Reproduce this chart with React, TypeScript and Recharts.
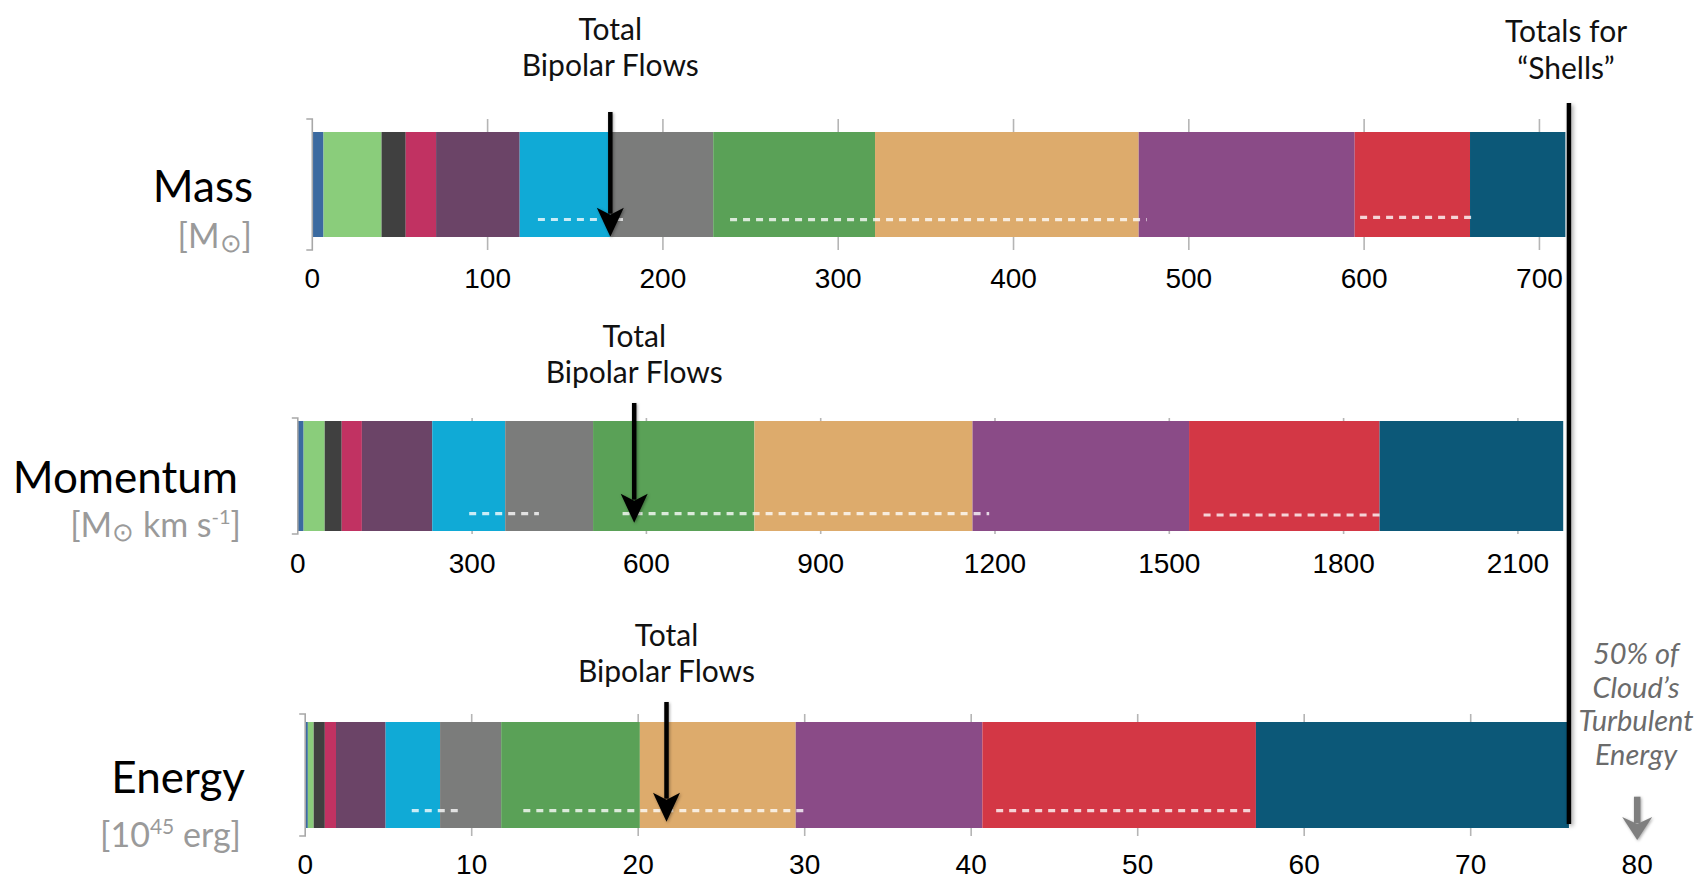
import React from 'react';
import { ComposedChart, Bar, XAxis, YAxis, CartesianGrid, ReferenceLine } from 'recharts';

// ---------- data ----------
const segmentKeys = ['s1', 's2', 's3', 's4', 's5', 's6', 's7', 's8', 's9', 's10', 's11', 's12'];
const segmentColors = [
  '#3b6aa0', '#8acd7b', '#404040', '#c13262', '#6b4467', '#10aad6',
  '#7b7c7b', '#5aa157', '#ddab6c', '#8a4b87', '#d33745', '#0c5878',
];

const massValues = [6.4, 33.1, 13.8, 17.3, 47.7, 51.7, 58.7, 92.3, 150.4, 123.2, 65.8, 54.4];
const momentumValues = [10, 36.3, 29.3, 34.7, 121.1, 125.6, 151.2, 277.7, 375.4, 372.7, 327.9, 316.1];
const energyValues = [0.16, 0.35, 0.67, 0.67, 2.98, 3.27, 3.67, 8.33, 9.36, 11.21, 16.43, 18.8];

const massTicks = [0, 100, 200, 300, 400, 500, 600, 700];
const momentumTicks = [0, 300, 600, 900, 1200, 1500, 1800, 2100];
const energyTicks = [0, 10, 20, 30, 40, 50, 60, 70, 80];

const massGrid = [100, 200, 300, 400, 500, 600, 700];
const momentumGrid = [300, 600, 900, 1200, 1500, 1800, 2100];
const energyGrid = [10, 20, 30, 40, 50, 60, 70];

const massDashes = [[128.7, 177.2], [238.3, 476.0], [597.7, 661.5]];
const momentumDashes = [[295, 415], [559, 1190], [1559, 1872]];
const energyDashes = [[6.4, 9.2], [13.1, 30.2], [41.5, 57.1]];

const massBipolarTotal = 170;
const momentumBipolarTotal = 579;
const energyBipolarTotal = 21.7;
const halfTurbulentEnergy = 80;

const energyShellTotal = energyValues.reduce((a, b) => a + b, 0);

// ---------- shapes ----------
const FONT = 'Lato, "Open Sans", sans-serif';

const bracketShape = (p: any) => {
  const top = Math.min(p.y1, p.y2);
  const bot = Math.max(p.y1, p.y2);
  const x = p.x1;
  return (
    <path d={`M${x - 6},${top} H${x} V${bot} H${x - 6}`} fill="none" stroke="#a8a8a8" strokeWidth={1.6} />
  );
};

const makeDash = (off: number) => (p: any) => {
  const yc = (p.y1 + p.y2) / 2 + off;
  return (
    <line
      x1={p.x1} x2={p.x2} y1={yc} y2={yc}
      stroke="rgba(255,255,255,0.78)" strokeWidth={3.2} strokeDasharray="7 6"
    />
  );
};

const makeArrow = (
  color: string, shaftW: number, headW: number, headH: number,
  topOff: number, tipOff: number, labelOffsets?: number[],
) => (p: any) => {
  const yc = (p.y1 + p.y2) / 2;
  const top = yc + topOff;
  const tip = yc + tipOff;
  const x = p.x1;
  return (
    <g>
      {labelOffsets && (
        <g fontFamily={FONT} fontSize={30} fill="#111" textAnchor="middle">
          <text x={x} y={top + labelOffsets[0]}>Total</text>
          <text x={x} y={top + labelOffsets[1]}>Bipolar Flows</text>
        </g>
      )}
      <g style={{ filter: 'drop-shadow(1.5px 1.5px 1.5px rgba(0,0,0,0.35))' }}>
        <line x1={x} y1={top} x2={x} y2={tip - headH + 6} stroke={color} strokeWidth={shaftW} />
        <polygon
          points={`${x - headW / 2},${tip - headH} ${x},${tip - headH + 7} ${x + headW / 2},${tip - headH} ${x},${tip}`}
          fill={color}
        />
      </g>
    </g>
  );
};

const makeShellLine = (topOff: number, botOff: number) => (p: any) => {
  const yc = (p.y1 + p.y2) / 2;
  return (
    <line
      x1={p.x1} y1={yc + topOff} x2={p.x1} y2={yc + botOff}
      stroke="#000" strokeWidth={4.5}
      style={{ filter: 'drop-shadow(2px 2px 2px rgba(0,0,0,0.35))' }}
    />
  );
};

// ---------- panel ----------
type PanelProps = {
  name: string;
  values: number[];
  ticks: number[];
  grid: number[];
  domain: [number, number];
  dashes: number[][];
  dashOff: number[];
  bipolar: number;
  arrowOff: [number, number];
  labelOffsets: number[];
  margin: { top: number; right: number; bottom: number; left: number };
  gap: number;
  tickMargin: number;
  extras?: React.ReactNode;
};

function Panel(props: PanelProps) {
  const row: any = { name: props.name };
  props.values.forEach((v, i) => {
    row[segmentKeys[i]] = v;
  });
  const n = props.name;
  return (
    <div style={{ position: 'absolute', left: 0, top: 0 }}>
      <ComposedChart
        width={1698}
        height={880}
        data={[row]}
        layout="vertical"
        margin={props.margin}
        barCategoryGap={props.gap}
      >
        <CartesianGrid horizontal={false} verticalValues={props.grid} stroke="#b5b5b5" strokeWidth={1.6} />
        <XAxis
          type="number"
          domain={props.domain}
          ticks={props.ticks}
          interval={0}
          tickLine={false}
          axisLine={false}
          height={40}
          tickSize={0}
          tickMargin={props.tickMargin}
          tick={{ fontSize: 28, fill: '#000', fontFamily: '"Liberation Sans", Arial, sans-serif' }}
        />
        <YAxis type="category" dataKey="name" hide />
        {segmentKeys.map((k, i) => (
          <Bar key={k} dataKey={k} stackId="a" fill={segmentColors[i]} isAnimationActive={false} />
        ))}
        <ReferenceLine x={0} ifOverflow="visible" shape={bracketShape} />
        {props.dashes.map((d, i) => (
          <ReferenceLine
            key={'d' + i}
            ifOverflow="visible"
            segment={[{ x: d[0], y: n }, { x: d[1], y: n }]}
            shape={makeDash(props.dashOff[i])}
          />
        ))}
        <ReferenceLine
          ifOverflow="visible"
          segment={[{ x: props.bipolar, y: n }, { x: props.bipolar, y: n }]}
          shape={makeArrow('#000', 4.5, 27, 29, props.arrowOff[0], props.arrowOff[1], props.labelOffsets)}
        />
        {props.extras}
      </ComposedChart>
    </div>
  );
}

export default function App() {
  return (
    <div style={{ position: 'absolute', left: 0, top: 0, width: 1698, height: 880, overflow: 'hidden', background: '#fff' }}>
      <Panel
        name="Mass"
        values={massValues}
        ticks={massTicks}
        grid={massGrid}
        domain={[0, 720]}
        dashes={massDashes}
        dashOff={[35, 35.2, 32.8]}
        bipolar={massBipolarTotal}
        arrowOff={[-72.5, 52.2]}
        labelOffsets={[-72, -36]}
        margin={{ top: 119, right: 123.5, bottom: 590, left: 312.3 }}
        gap={13}
        tickMargin={18}
      />
      <Panel
        name="Momentum"
        values={momentumValues}
        ticks={momentumTicks}
        grid={momentumGrid}
        domain={[0, 2200]}
        dashes={momentumDashes}
        dashOff={[37.7, 37.7, 39]}
        bipolar={momentumBipolarTotal}
        arrowOff={[-73, 46.7]}
        labelOffsets={[-56, -20]}
        margin={{ top: 418, right: 122, bottom: 306, left: 297.8 }}
        gap={3}
        tickMargin={19}
      />
      <Panel
        name="Energy"
        values={energyValues}
        ticks={energyTicks}
        grid={energyGrid}
        domain={[0, 80]}
        dashes={energyDashes}
        dashOff={[35.7, 35.7, 35.7]}
        bipolar={energyBipolarTotal}
        arrowOff={[-73, 46.7]}
        labelOffsets={[-56, -20]}
        margin={{ top: 714, right: 60.8, bottom: 4, left: 305.2 }}
        gap={8}
        tickMargin={18}
        extras={[
          <ReferenceLine
            key="shell"
            ifOverflow="visible"
            segment={[{ x: energyShellTotal, y: 'Energy' }, { x: energyShellTotal, y: 'Energy' }]}
            shape={makeShellLine(-672, 49)}
          />,
          <ReferenceLine
            key="turb"
            ifOverflow="visible"
            segment={[{ x: halfTurbulentEnergy, y: 'Energy' }, { x: halfTurbulentEnergy, y: 'Energy' }]}
            shape={makeArrow('#7f7f7f', 6.5, 30, 23, 21.7, 65)}
          />,
        ]}
      />
      <svg width={1698} height={880} style={{ position: 'absolute', left: 0, top: 0, pointerEvents: 'none' }}>
        <g fontFamily={FONT} textAnchor="end">
          <text x={253} y={202} fontSize={44} fill="#000">Mass</text>
          <text x={252} y={248} fontSize={34} fill="#9a9a9a">
            [M<tspan fontSize={26} dy={4}>⊙</tspan><tspan dy={-4}>]</tspan>
          </text>
          <text x={238} y={493} fontSize={44} fill="#000">Momentum</text>
          <text x={241} y={537} fontSize={34} fill="#9a9a9a">
            [M<tspan fontSize={26} dy={4}>⊙</tspan><tspan dy={-4}> km s</tspan>
            <tspan fontSize={20} dy={-13}>-1</tspan><tspan dy={13}>]</tspan>
          </text>
          <text x={245} y={793} fontSize={44} fill="#000">Energy</text>
          <text x={241} y={847} fontSize={34} fill="#9a9a9a">
            [10<tspan fontSize={21} dy={-13}>45</tspan><tspan dy={13}> erg]</tspan>
          </text>
        </g>
        <g fontFamily={FONT} textAnchor="middle" fontSize={30} fill="#111">
          <text x={1566} y={42}>Totals for</text>
          <text x={1566} y={79}>“Shells”</text>
        </g>
        <g fontFamily={FONT} textAnchor="middle" fontSize={29} fill="#6b6b6b" fontStyle="italic">
          <text x={1636} y={664}>50% of</text>
          <text x={1636} y={698}>Cloud’s</text>
          <text x={1636} y={731}>Turbulent</text>
          <text x={1636} y={765}>Energy</text>
        </g>
      </svg>
    </div>
  );
}
